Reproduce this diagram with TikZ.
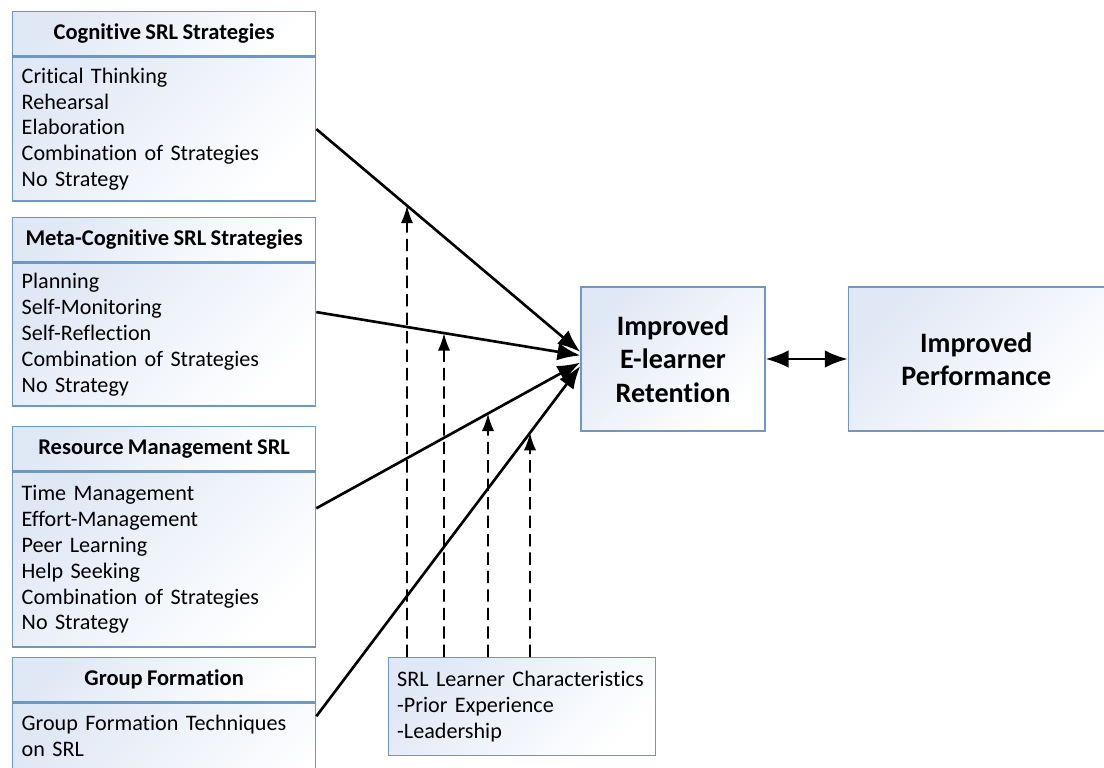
\documentclass[tikz,border=0pt]{standalone}
\usepackage{fontspec}
\setmainfont{Carlito}[Ligatures=NoCommon, WordSpace=0.85]
\usetikzlibrary{positioning,arrows.meta,intersections}

\definecolor{boxline}{RGB}{108,152,200}
\definecolor{boxtint}{RGB}{224,232,245}

\tikzset{
  panel/.style={draw=boxline, line width=0.8pt, top color=boxtint, bottom color=white, shading angle=45, inner sep=0pt},
  headbox/.style={panel, minimum width=6.06cm, minimum height=0.88cm, font=\fontsize{12.8}{15}\selectfont\bfseries},
  listbox/.style={panel, minimum width=6.06cm, text width=5.7cm, align=left, font=\fontsize{12.6}{14.7}\selectfont},
  goalbox/.style={panel, align=center, minimum height=2.88cm, font=\fontsize{16}{19}\selectfont\bfseries},
  link/.style={line width=1.5pt, -{Latex[length=13pt,width=10pt]}},
  moderator/.style={line width=1.1pt, dash pattern=on 7pt off 3.5pt, -{Latex[length=10pt,width=7pt]}}
}

\begin{document}
\begin{tikzpicture}[x=0.02cm, y=-0.02cm]
    \useasboundingbox (0,0) rectangle (1104,767);
    % strategy groups
    \node[headbox, anchor=north west] (cogh) at (12,11) {Cognitive SRL Strategies};
    \node[listbox, below=0pt of cogh, minimum height=2.88cm] (cogb) {Critical Thinking\\Rehearsal\\Elaboration\\Combination of Strategies\\No Strategy};
    \node[headbox, anchor=north west] (metah) at (12,217) {Meta-Cognitive SRL Strategies};
    \node[listbox, below=0pt of metah, minimum height=2.86cm] (metab) {Planning\\Self-Monitoring\\Self-Reflection\\Combination of Strategies\\No Strategy};
    \node[headbox, anchor=north west] (resh) at (12,426) {Resource Management SRL};
    \node[listbox, below=0pt of resh, minimum height=3.5cm] (resb) {Time Management\\Effort-Management\\Peer Learning\\Help Seeking\\Combination of Strategies\\No Strategy};
    \node[headbox, anchor=north west] (grph) at (12,657) {Group Formation};
    \node[listbox, below=0pt of grph, inner ysep=7pt, text depth=1.6cm] (grpb) {Group Formation Techniques\\on SRL};
    % outcomes
    \node[goalbox, minimum width=3.68cm] (ret) at (673,359) {Improved\\E-learner\\Retention};
    \node[goalbox, minimum width=5.12cm, right=1.64cm of ret] (perf) {Improved\\Performance};
    \node[listbox, anchor=north west, minimum width=5.34cm, text width=5.0cm, minimum height=1.96cm] (srl) at (388,657) {SRL Learner Characteristics\\-Prior Experience\\-Leadership};
    %
    \draw[link, name path=cogline] (cogb.east) -- ([yshift=4pt]ret.west);
    \draw[link, name path=metaline] ([yshift=12.8pt]metab.east) -- ([yshift=2pt]ret.west);
    \draw[link, name path=resline] ([yshift=29.2pt]resb.east) -- ([yshift=-2pt]ret.west);
    \draw[link, name path=grpline] ([yshift=-7.9pt]grpb.north east) -- ([yshift=-4pt]ret.west);
    \draw[line width=1.3pt, {Latex[length=13pt,width=10pt]}-{Latex[length=13pt,width=10pt]}] (ret) -- (perf);
    % moderating effect of learner characteristics
    \path[name path=vone] (407,0 |- srl.north) -- (407,100);
    \path[name path=vtwo] (444,0 |- srl.north) -- (444,100);
    \path[name path=vthree] (488,0 |- srl.north) -- (488,100);
    \path[name path=vfour] (530,0 |- srl.north) -- (530,100);
    \draw[moderator, name intersections={of=cogline and vone, by=mone}] (407,0 |- srl.north) -- (mone);
    \draw[moderator, name intersections={of=metaline and vtwo, by=mtwo}] (444,0 |- srl.north) -- (mtwo);
    \draw[moderator, name intersections={of=resline and vthree, by=mthree}] (488,0 |- srl.north) -- (mthree);
    \draw[moderator, name intersections={of=grpline and vfour, by=mfour}] (530,0 |- srl.north) -- (mfour);
\end{tikzpicture}
\end{document}
